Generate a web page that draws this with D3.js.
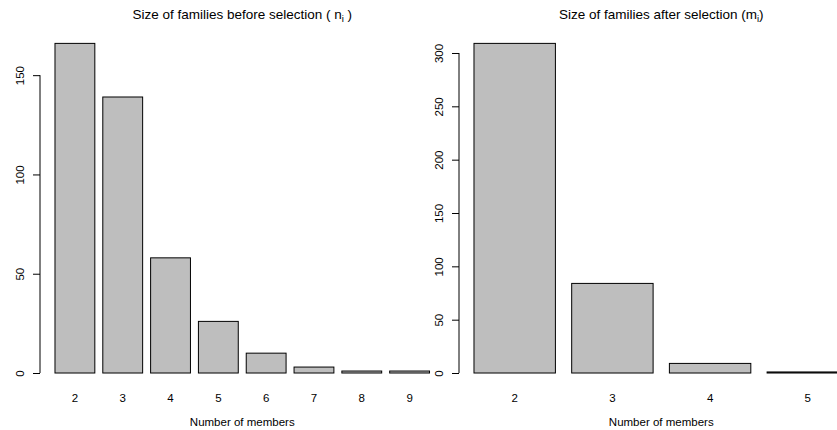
<!DOCTYPE html>
<html>
<head>
<meta charset="utf-8">
<script src="https://cdn.jsdelivr.net/npm/d3@7"></script>
<style>
  html, body { margin: 0; padding: 0; background: #fff; }
  svg text { font-family: "Liberation Sans", Arial, Helvetica, sans-serif; fill: #000; }
</style>
</head>
<body>
<svg id="chart" width="837" height="430"></svg>
<script>
// ---- data ----
const beforeCategories = ["2", "3", "4", "5", "6", "7", "8", "9"];
const beforeValues = [166, 139, 58, 26, 10, 3, 1, 1];
const beforeTicks = [0, 50, 100, 150];

const afterCategories = ["2", "3", "4", "5"];
const afterValues = [309, 84, 9, 1];
const afterTicks = [0, 50, 100, 150, 200, 250, 300];

const xLabel = "Number of members";

// ---- drawing ----
const svg = d3.select("#chart");
const FS = 11.5;
const TFS = 13.5;
const plotTop = 30.2, plotBottom = 386.2;

function panel(opts) {
  const { cats, vals, ticks, left, right, titleMain, titleSub, titleEnd } = opts;
  const n = cats.length;
  // R barplot: width 1, space 0.2, 4% axis extension
  const span = 1.2 * n - 0.2;
  const outer = (0.04 * span) / 1.2;
  const x = d3.scaleBand().domain(cats).range([left, right])
    .paddingInner(0.2 / 1.2).paddingOuter(outer).align(0.5);
  const maxV = d3.max(vals);
  const y = d3.scaleLinear().domain([-0.04 * maxV, 1.04 * maxV]).range([plotBottom, plotTop]);

  const g = svg.append("g");
  g.selectAll("rect.bar").data(vals).enter().append("rect")
    .attr("class", "bar")
    .attr("x", (d, i) => x(cats[i]))
    .attr("width", x.bandwidth())
    .attr("y", d => y(d))
    .attr("height", d => y(0) - y(d))
    .attr("fill", "#bebebe")
    .attr("stroke", "#000")
    .attr("stroke-width", 1);

  // y axis
  const yAxis = d3.axisLeft(y).tickValues(ticks).tickSize(7).tickSizeOuter(0).tickFormat(d3.format("d"));
  const ag = g.append("g").attr("transform", `translate(${left},0)`).call(yAxis);
  ag.select(".domain").remove();
  ag.append("line")
    .attr("x1", 0).attr("x2", 0)
    .attr("y1", y(ticks[0])).attr("y2", y(ticks[ticks.length - 1]))
    .attr("stroke", "#000");
  ag.selectAll(".tick line").attr("stroke", "#000");
  ag.selectAll(".tick text")
    .attr("x", null).attr("dy", null)
    .attr("transform", "translate(-16,0) rotate(-90)")
    .attr("text-anchor", "middle")
    .style("font-size", FS + "px")
    .style("font-family", "'Liberation Sans', Arial, sans-serif");

  // x category labels
  g.selectAll("text.xl").data(cats).enter().append("text")
    .attr("class", "xl")
    .attr("x", d => x(d) + x.bandwidth() / 2)
    .attr("y", 402)
    .attr("text-anchor", "middle")
    .style("font-size", FS + "px")
    .text(d => d);

  const cx = (left + right) / 2;
  g.append("text")
    .attr("x", cx).attr("y", 426)
    .attr("text-anchor", "middle")
    .style("font-size", FS + "px")
    .text(xLabel);

  const t = g.append("text")
    .attr("x", cx).attr("y", 19)
    .attr("text-anchor", "middle")
    .style("font-size", TFS + "px");
  t.append("tspan").text(titleMain);
  t.append("tspan").attr("dy", 3).style("font-size", "9.5px").text(titleSub);
  t.append("tspan").attr("dy", -3).text(titleEnd);
}

panel({
  cats: beforeCategories, vals: beforeValues, ticks: beforeTicks,
  left: 40, right: 444.5,
  titleMain: "Size of families before selection ( n", titleSub: "i", titleEnd: " )"
});
panel({
  cats: afterCategories, vals: afterValues, ticks: afterTicks,
  left: 459, right: 863.5,
  titleMain: "Size of families after selection (m", titleSub: "i", titleEnd: ")"
});
</script>
</body>
</html>
